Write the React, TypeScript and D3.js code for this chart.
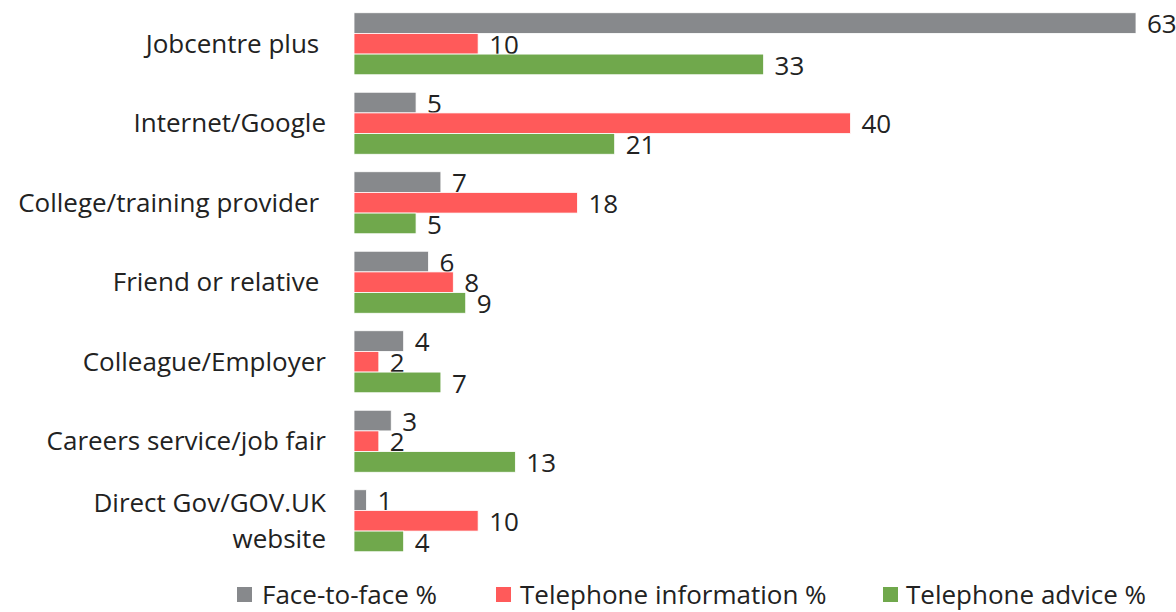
import React from "react";
import * as d3 from "d3";

const categories = [
  "Jobcentre plus ",
  "Internet/Google",
  "College/training provider ",
  "Friend or relative ",
  "Colleague/Employer",
  "Careers service/job fair",
  "Direct Gov/GOV.UK website",
];
const categoryLines: string[][] = [
  ["Jobcentre plus "],
  ["Internet/Google"],
  ["College/training provider "],
  ["Friend or relative "],
  ["Colleague/Employer"],
  ["Careers service/job fair"],
  ["Direct Gov/GOV.UK", "website"],
];
const seriesNames = ["Face-to-face %", "Telephone information %", "Telephone advice %"];
const faceToFace = [63, 5, 7, 6, 4, 3, 1];
const telInfo = [10, 40, 18, 8, 2, 2, 10];
const telAdvice = [33, 21, 5, 9, 7, 13, 4];
const colors = ["#87898c", "#ff5a5a", "#70a84c"];

const W = 1176;
const H = 612;
const FONT = "'Open Sans', 'Noto Sans', sans-serif";
const FS = 26;

export default function App() {
  const series = [faceToFace, telInfo, telAdvice];
  const x = d3.scaleLinear().domain([0, 63]).range([354, 1136]);
  const y = d3
    .scaleBand<string>()
    .domain(categories)
    .range([4, 560.5])
    .paddingInner(0.22)
    .paddingOuter(0.11);
  const inner = d3
    .scaleBand<number>()
    .domain([0, 1, 2])
    .range([0, y.bandwidth()]);

  const legendItems = [
    { sx: 237, tx: 262 },
    { sx: 496, tx: 520 },
    { sx: 883, tx: 906 },
  ];

  return (
    <svg
      width={W}
      height={H}
      style={{ position: "absolute", left: 0, top: 0, background: "#fff" }}
      fontFamily={FONT}
    >
      {categories.map((c, ci) => {
        const y0 = y(c)!;
        const lines = categoryLines[ci];
        const cy = y0 + y.bandwidth() / 2;
        const lh = 36;
        return (
          <g key={c}>
            {lines.map((ln, li) => (
              <text
                key={li}
                x={326}
                y={cy + (li - (lines.length - 1) / 2) * lh}
                dy="0.35em"
                textAnchor="end"
                fontSize={FS}
                fill="#222"
                style={{ whiteSpace: "pre" }}
              >
                {ln}
              </text>
            ))}
            {series.map((s, si) => {
              const by = y0 + inner(si)!;
              const bh = inner.bandwidth();
              return (
                <g key={si}>
                  <rect
                    x={x(0)}
                    y={by}
                    width={x(s[ci]) - x(0)}
                    height={bh}
                    fill={colors[si]}
                    stroke="#fff"
                    strokeWidth={0.8}
                  />
                  <text
                    x={x(s[ci]) + 11}
                    y={by + bh / 2 + 1}
                    dy="0.35em"
                    fontSize={FS}
                    fill="#222"
                  >
                    {s[ci]}
                  </text>
                </g>
              );
            })}
          </g>
        );
      })}
      {seriesNames.map((n, i) => (
        <g key={n}>
          <rect x={legendItems[i].sx} y={587} width={15} height={15} fill={colors[i]} />
          <text x={legendItems[i].tx} y={594.5} dy="0.35em" fontSize={FS} fill="#222">
            {n}
          </text>
        </g>
      ))}
    </svg>
  );
}
